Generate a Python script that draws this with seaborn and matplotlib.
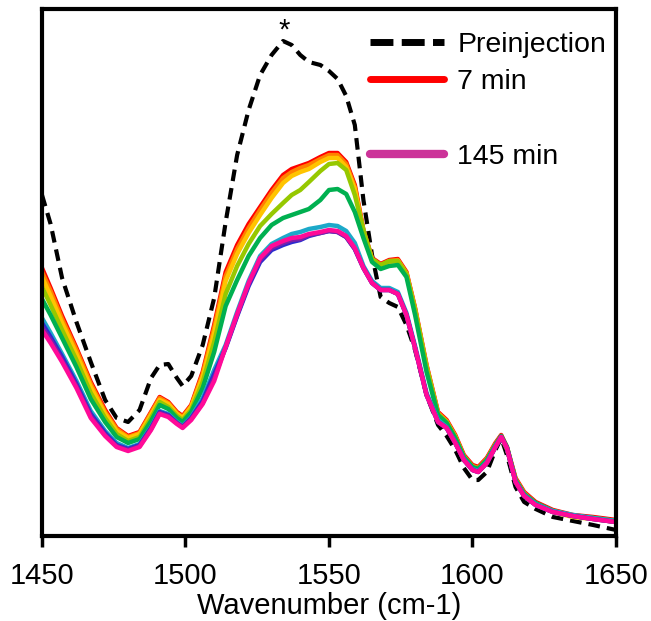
import matplotlib
matplotlib.use("Agg")
import matplotlib.pyplot as plt
from matplotlib.lines import Line2D
import pandas as pd
import seaborn as sns

# ---------------- data (absorbance, arbitrary units x1000) ----------------
wavenumber = [1450, 1453, 1457, 1462, 1467, 1472, 1476, 1480, 1484, 1488,
              1491, 1494, 1497, 1499, 1502, 1506, 1510, 1514, 1518, 1522,
              1526, 1530, 1534, 1537, 1540, 1543, 1547, 1550, 1553, 1556,
              1559, 1562, 1565, 1568, 1571, 1574, 1577, 1580, 1584, 1588,
              1591, 1594, 1597, 1600, 1602, 1605, 1608, 1610, 1612, 1615,
              1618, 1622, 1628, 1635, 1642, 1650]

preinjection = [341, 312, 258, 214, 174, 136, 118, 114, 126, 158,
                171, 172, 158, 150, 160, 191, 238, 314, 381, 426,
                461, 481, 495, 491, 481, 474, 471, 465, 457, 440,
                411, 336, 281, 239, 233, 229, 211, 186, 141, 111,
                100, 86, 68, 56, 56, 64, 86, 98, 81, 49,
                34, 27, 19, 15, 11, 6]

min7 = [268, 248, 220, 188, 154, 126, 108, 100, 104, 124,
        139, 134, 124, 120, 131, 164, 211, 264, 291, 312,
        329, 346, 361, 367, 370, 373, 379, 383, 383, 374,
        351, 306, 278, 272, 276, 277, 264, 228, 171, 124,
        116, 101, 81, 71, 69, 78, 93, 101, 89, 58,
        44, 34, 26, 21, 19, 16]

spec2 = [264, 245, 217, 186, 152, 124, 107, 99, 103, 123,
         138, 133, 123, 119, 130, 162, 208, 260, 287, 308,
         326, 343, 358, 364, 368, 371, 377, 381, 381, 372,
         349, 305, 277, 271, 275, 276, 263, 227, 170, 123,
         115, 100, 80, 70, 68, 77, 92, 100, 88, 57,
         43, 33, 25, 20, 18, 15]

spec3 = [259, 240, 213, 182, 149, 122, 105, 98, 102, 121,
         136, 132, 122, 118, 129, 159, 203, 255, 282, 303,
         321, 338, 353, 360, 364, 367, 374, 378, 378, 369,
         347, 304, 276, 270, 274, 275, 262, 226, 169, 122,
         114, 99, 79, 69, 67, 76, 91, 99, 87, 56,
         42, 32, 24, 19, 17, 14]

spec4 = [249, 231, 206, 176, 143, 118, 102, 95, 99, 118,
         134, 129, 120, 116, 126, 154, 194, 242, 270, 292,
         310, 322, 333, 341, 346, 354, 365, 372, 373, 366,
         341, 306, 277, 271, 275, 275, 262, 226, 169, 122,
         114, 99, 79, 69, 67, 76, 91, 100, 89, 56,
         42, 32, 25, 20, 18, 15]

spec5 = [237, 221, 198, 169, 137, 114, 99, 93, 97, 115,
         131, 127, 118, 114, 124, 148, 184, 230, 256, 280,
         298, 311, 318, 321, 324, 327, 336, 346, 347, 342,
         324, 298, 274, 267, 270, 271, 259, 221, 164, 121,
         113, 98, 79, 69, 67, 76, 91, 100, 89, 56,
         42, 33, 25, 20, 18, 15]

spec6 = [218, 203, 182, 155, 125, 105, 93, 88, 92, 109,
         125, 122, 114, 110, 119, 138, 166, 191, 224, 255,
         280, 292, 298, 302, 304, 307, 309, 311, 310, 305,
         293, 270, 255, 248, 248, 244, 223, 190, 143, 116,
         109, 94, 77, 67, 65, 74, 90, 99, 88, 55,
         41, 32, 25, 21, 18, 15]

spec7 = [213, 199, 179, 152, 122, 103, 91, 87, 91, 108,
         124, 121, 113, 109, 118, 135, 162, 188, 220, 250,
         274, 286, 291, 294, 296, 300, 303, 305, 304, 299,
         287, 268, 253, 246, 246, 242, 221, 188, 141, 114,
         108, 93, 76, 66, 64, 73, 89, 99, 88, 54,
         40, 31, 24, 20, 17, 14]

spec8 = [209, 196, 176, 150, 120, 101, 90, 86, 90, 107,
         123, 120, 113, 109, 117, 133, 158, 189, 221, 252,
         276, 288, 293, 296, 297, 301, 303, 305, 304, 299,
         287, 268, 253, 246, 246, 242, 221, 188, 141, 114,
         108, 93, 76, 66, 64, 73, 89, 99, 88, 54,
         40, 31, 24, 20, 17, 14]

min145 = [206, 193, 174, 148, 118, 100, 89, 85, 89, 106,
          122, 119, 112, 108, 116, 132, 155, 189, 222, 253,
          278, 290, 295, 298, 299, 302, 304, 306, 305, 300,
          288, 268, 253, 246, 246, 242, 221, 188, 141, 114,
          108, 93, 76, 66, 64, 73, 89, 99, 88, 54,
          40, 31, 24, 20, 17, 14]

series_names = ["7 min", "spectrum 2", "spectrum 3", "spectrum 4", "spectrum 5",
                "spectrum 6", "spectrum 7", "spectrum 8", "145 min"]
series_values = [min7, spec2, spec3, spec4, spec5, spec6, spec7, spec8, min145]
series_colors = ["#FF0000", "#FF8000", "#FFC400", "#96C800", "#00B050",
                 "#1CA9C9", "#2B2BD0", "#7A22A8", "#FF0A98"]

legend_labels = ["Preinjection", "7 min", "", "145 min"]
xticks = [1450, 1500, 1550, 1600, 1650]

# ---------------- build long-form table ----------------
rows = []
for name, vals in zip(series_names, series_values):
    for w, a in zip(wavenumber, vals):
        rows.append({"wn": w, "A": a, "series": name})
df = pd.DataFrame(rows)
df_pre = pd.DataFrame({"wn": wavenumber, "A": preinjection})

# ---------------- figure ----------------
sns.set_style("ticks")
plt.rcParams["font.family"] = ["Liberation Sans", "DejaVu Sans"]
plt.rcParams["text.color"] = "black"
plt.rcParams["axes.labelcolor"] = "black"
plt.rcParams["xtick.color"] = "black"
plt.rcParams["lines.solid_joinstyle"] = "round"
plt.rcParams["lines.solid_capstyle"] = "round"

fig = plt.figure(figsize=(6.51, 6.21), dpi=100)
ax = fig.add_axes([0.0645, 0.1369, 0.8817, 0.8486])

sns.lineplot(data=df_pre, x="wn", y="A", ax=ax, color="black", lw=3,
             linestyle=(0, (2.8, 1.7)), sort=False, estimator=None)
sns.lineplot(data=df, x="wn", y="A", hue="series", hue_order=series_names,
             palette=dict(zip(series_names, series_colors)), ax=ax, lw=3.2,
             legend=False, sort=False, estimator=None)

ax.text(1534.5, 497, "*", ha="center", va="baseline", fontsize=21, color="black")

ax.set_xlim(1450, 1650)
ax.set_ylim(0, 527)
ax.set_xticks(xticks)
ax.set_xticklabels([str(t) for t in xticks])
ax.set_yticks([])
ax.set_ylabel("")
ax.set_xlabel("Wavenumber (cm-1)", fontsize=21, labelpad=2, color="black")
ax.tick_params(axis="x", direction="out", length=8, width=2.5, labelsize=21,
               pad=10.5, color="black", labelcolor="black")
for s in ax.spines.values():
    s.set_visible(True)
    s.set_linewidth(3)
    s.set_color("black")

handles = [
    Line2D([], [], color="black", lw=5, linestyle=(0, (3.3, 1.2))),
    Line2D([], [], color="#FF0000", lw=5),
    Line2D([], [], color="none", lw=5),
    Line2D([], [], color="#CC3399", lw=6),
]
leg = ax.legend(handles, legend_labels, loc="upper left", bbox_to_anchor=(0.572, 0.957),
                frameon=False, fontsize=20.5, handlelength=2.6, handletextpad=0.45,
                labelspacing=0.4, borderpad=0, borderaxespad=0)
for t in leg.get_texts():
    t.set_color("black")

fig.savefig("out.png", dpi=100)
